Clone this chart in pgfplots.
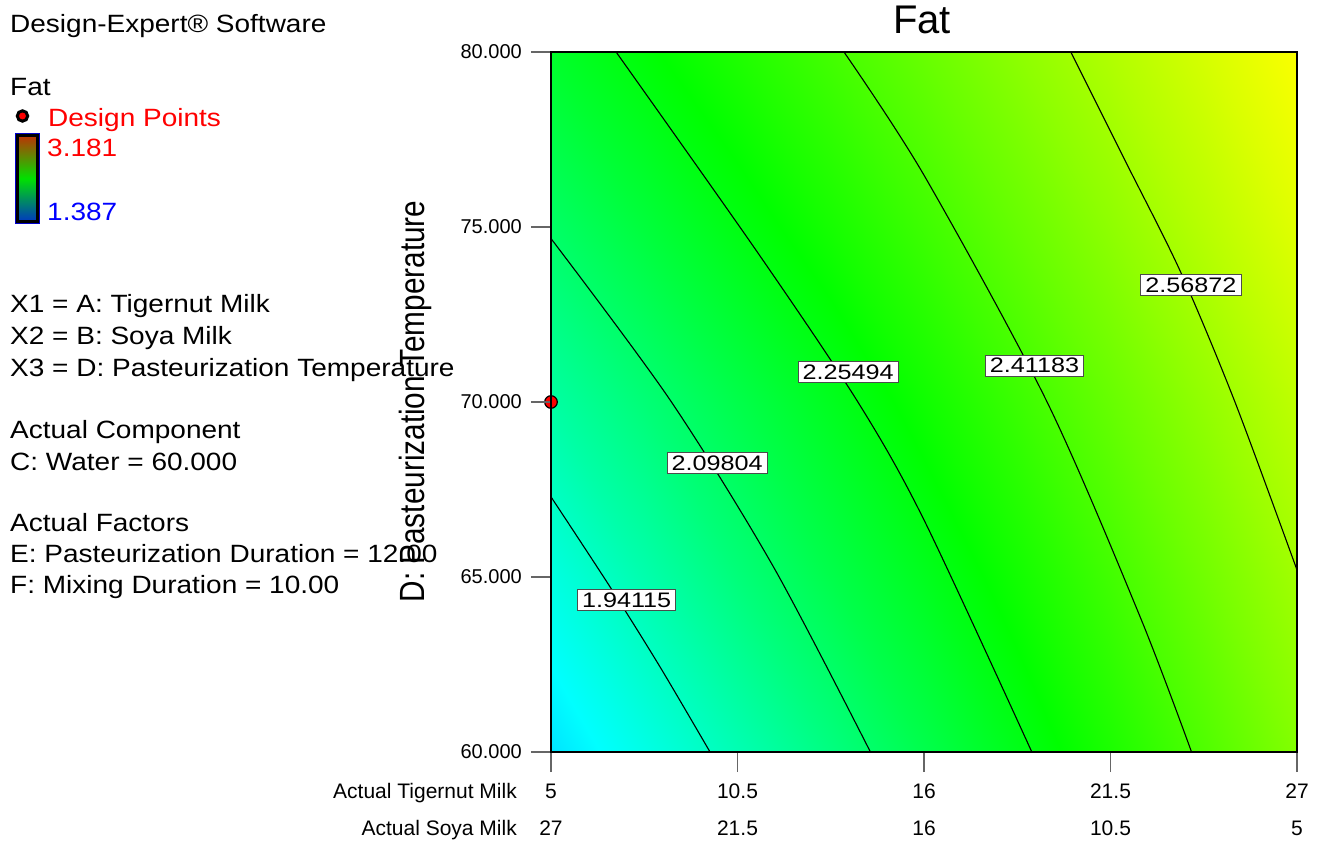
\documentclass[border=0pt]{standalone}
\usepackage{pgfplots}
\pgfplotsset{compat=1.18}
\usepackage{fontspec}
\setmainfont{Liberation Sans}
\newcommand\fs[1]{\fontsize{#1pt}{#1pt}\selectfont}

\definecolor{barTop}{RGB}{195,45,5}
\definecolor{barMid}{RGB}{0,225,0}
\definecolor{barBot}{RGB}{0,50,200}

\pgfplotsset{
  colormap={designexpert}{rgb255(0)=(0,0,255) rgb255(1)=(0,255,255)
    rgb255(2)=(0,255,0) rgb255(3)=(255,255,0) rgb255(4)=(255,0,0)},
}
\tikzset{
  clabel/.style={fill=white, draw=black!70, line width=0.8pt,
    inner xsep=4.5pt, inner ysep=0pt, minimum height=21pt, font=\fs{21}},
  lefttext/.style={anchor=base west, inner sep=0pt, font=\fs{25}},
  ylab/.style={anchor=east, inner sep=0pt, font=\fs{20}, xshift=-29pt},
  xlabA/.style={anchor=base, inner sep=0pt, font=\fs{21}, yshift=-46pt},
  xlabB/.style={anchor=base, inner sep=0pt, font=\fs{21}, yshift=-83pt},
  contour/.style={black, line width=1.1pt, smooth},
}
\newcommand\wide[1]{\scalebox{1.12}[1]{#1}}
\newcommand\cl[1]{\scalebox{1.2}[1]{#1}}

\begin{document}
\begin{tikzpicture}
% the plot box sits at the origin; the side panel is placed relative to it
\begin{scope}[shift={(-551pt,-91pt)}]
% ---- side panel ----
\node[lefttext] at (10pt,810pt) {\wide{Design-Expert® Software}};
\node[lefttext] at (10pt,747pt) {\wide{Fat}};
\filldraw[fill=red, draw=black, line width=3pt] (22.5pt,727pt) circle (5.2pt);
\node[lefttext, text=red] at (48pt,716pt) {\wide{Design Points}};
\shade[top color=barTop, bottom color=barBot, middle color=barMid] (16pt,620pt) rectangle (39pt,709pt);
\draw[black, line width=3pt] (17.5pt,621.5pt) rectangle (37.5pt,707.5pt);
\draw[blue!80!black, line width=0.8pt] (15.6pt,619.6pt) rectangle (39.4pt,709.4pt);
\node[lefttext, text=red] at (47pt,686pt) {\wide{3.181}};
\node[lefttext, text=blue] at (47pt,622pt) {\wide{1.387}};

\node[lefttext] at (10pt,530pt) {\wide{X1 = A: Tigernut Milk}};
\node[lefttext] at (10pt,498pt) {\wide{X2 = B: Soya Milk}};
\node[lefttext] at (10pt,466pt) {\wide{X3 = D: Pasteurization Temperature}};
\node[lefttext] at (10pt,404pt) {\wide{Actual Component}};
\node[lefttext] at (10pt,372pt) {\wide{C: Water = 60.000}};
\node[lefttext] at (10pt,311pt) {\wide{Actual Factors}};
\node[lefttext] at (10pt,280pt) {\wide{E: Pasteurization Duration = 12.00}};
\node[lefttext] at (10pt,249pt) {\wide{F: Mixing Duration = 10.00}};

% ---- title and axis names ----
\node[anchor=base, inner sep=0pt, font=\fs{40}] at (922pt,809pt) {Fat};
\node[anchor=base, inner sep=0pt, rotate=90] at (425pt,441.5pt)
  {\scalebox{0.85}[1]{\fs{35}D: Pasteurization Temperature}};
\node[anchor=base east, inner sep=0pt, font=\fs{21}] at (517pt,45pt) {Actual Tigernut Milk};
\node[anchor=base east, inner sep=0pt, font=\fs{21}] at (517pt,8pt) {Actual Soya Milk};
\end{scope}

\begin{axis}[
  scale only axis, width=746pt, height=700pt,
  xmin=5, xmax=27, ymin=60, ymax=80,
  xtick={5,10.5,16,21.5,27}, ytick={60,65,70,75,80},
  xticklabels={,,,,}, yticklabels={,,,,},
  tick align=outside, major tick length=20pt,
  xtick pos=bottom, ytick pos=left,
  tick style={black!60, line width=1.2pt},
  axis line style={black, line width=1.6pt},
  colormap name=designexpert, point meta min=1.387, point meta max=3.181,
  set layers, axis on top, clip=false,
]
% response surface, Fat
\addplot[surf, shader=interp, mesh/cols=9, point meta=\thisrow{f}] table {
x y f
5 60 1.787
7.75 60 1.878
10.5 60 1.969
13.25 60 2.059
16 60 2.150
18.75 60 2.241
21.5 60 2.332
24.25 60 2.423
27 60 2.514
5 65 1.887
7.75 65 1.979
10.5 65 2.071
13.25 65 2.153
16 65 2.231
18.75 65 2.314
21.5 65 2.399
24.25 65 2.483
27 65 2.567
5 70 1.998
7.75 70 2.076
10.5 70 2.154
13.25 70 2.231
16 70 2.310
18.75 70 2.387
21.5 70 2.465
24.25 70 2.542
27 70 2.619
5 75 2.105
7.75 75 2.179
10.5 75 2.253
13.25 75 2.322
16 75 2.392
18.75 75 2.463
21.5 75 2.535
24.25 75 2.607
27 75 2.679
5 80 2.210
7.75 80 2.274
10.5 80 2.339
13.25 80 2.403
16 80 2.467
18.75 80 2.532
21.5 80 2.596
24.25 80 2.660
27 80 2.725
};

% contour lines
\addplot[contour] coordinates {(5,67.29) (6.74,64.72) (8.21,62.44) (9.69,60)};
\addplot[contour] coordinates {(5,74.67) (8.51,70.06) (11.56,65.29) (14.42,60)};
\addplot[contour] coordinates {(6.92,80) (11.08,74.29) (14.05,70.0) (16.0,66.63) (19.18,60)};
\addplot[contour] coordinates {(13.64,80) (16.0,76.48) (19.63,70) (22.37,63.87) (23.89,60)};
\addplot[contour] coordinates {(20.33,80) (21.95,76.86) (23.57,73.71) (25.17,70) (27,65.2)};

% contour labels
\node[clabel] at (axis cs:7.23,64.34) {\cl{1.94115}};
\node[clabel] at (axis cs:9.90,68.26) {\cl{2.09804}};
\node[clabel] at (axis cs:13.76,70.86) {\cl{2.25494}};
\node[clabel] at (axis cs:19.26,71.04) {\cl{2.41183}};
\node[clabel] at (axis cs:23.87,73.34) {\cl{2.56872}};

% design point
\addplot[only marks, mark=*, mark size=6.3pt,
  mark options={fill=red, draw=black, line width=1.2pt},
  on layer=axis foreground] coordinates {(5,70)};

% tick labels
\node[ylab] at (axis cs:5,60) {60.000};
\node[ylab] at (axis cs:5,65) {65.000};
\node[ylab] at (axis cs:5,70) {70.000};
\node[ylab] at (axis cs:5,75) {75.000};
\node[ylab] at (axis cs:5,80) {80.000};
\node[xlabA] at (axis cs:5,60) {5};
\node[xlabA] at (axis cs:10.5,60) {10.5};
\node[xlabA] at (axis cs:16,60) {16};
\node[xlabA] at (axis cs:21.5,60) {21.5};
\node[xlabA] at (axis cs:27,60) {27};
\node[xlabB] at (axis cs:5,60) {27};
\node[xlabB] at (axis cs:10.5,60) {21.5};
\node[xlabB] at (axis cs:16,60) {16};
\node[xlabB] at (axis cs:21.5,60) {10.5};
\node[xlabB] at (axis cs:27,60) {5};
\end{axis}

\pgfresetboundingbox
\path[use as bounding box] (-551pt,-91pt) rectangle (771pt,752pt);
\end{tikzpicture}
\end{document}
